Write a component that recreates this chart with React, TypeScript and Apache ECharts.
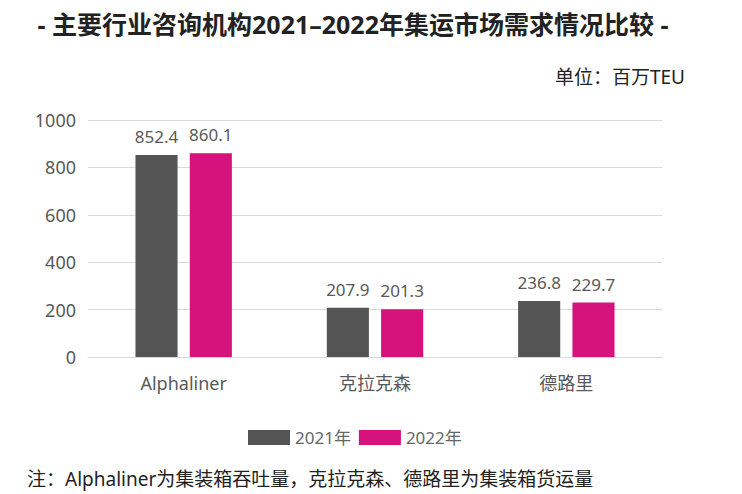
import React, { useEffect, useRef } from "react";
import * as echarts from "echarts";

const categories = ["Alphaliner", "克拉克森", "德路里"];
const values2021 = [852.4, 207.9, 236.8];
const values2022 = [860.1, 201.3, 229.7];
const seriesNames = ["2021年", "2022年"];
const yTicks = [0, 200, 400, 600, 800, 1000];

const FONT = "'Noto Sans', 'Noto Sans CJK SC', sans-serif";

export default function App() {
  const ref = useRef<HTMLDivElement>(null);
  useEffect(() => {
    const chart = echarts.init(ref.current!, undefined, { renderer: "svg" });
    chart.setOption({
      animation: false,
      backgroundColor: "#ffffff",
      textStyle: { fontFamily: FONT },
      title: [
        {
          text: "- 主要行业咨询机构2021–2022年集运市场需求情况比较 -",
          left: 348,
          top: 6,
          textAlign: "center",
          textStyle: { fontSize: 25, fontWeight: "bold", color: "#222222", fontFamily: FONT },
        },
        {
          text: "单位：百万TEU",
          right: 52,
          top: 62,
          textStyle: { fontSize: 19, fontWeight: "normal", color: "#222222", fontFamily: FONT },
        },
        {
          text: "注：Alphaliner为集装箱吞吐量，克拉克森、德路里为集装箱货运量",
          left: 22,
          top: 464,
          textStyle: { fontSize: 19, fontWeight: "normal", color: "#222222", fontFamily: FONT },
        },
      ],
      legend: {
        data: seriesNames,
        left: 243,
        top: 424,
        itemWidth: 42,
        itemHeight: 15,
        itemGap: 8,
        icon: "rect",
        textStyle: { fontSize: 17, color: "#666666", fontFamily: FONT },
      },
      grid: { left: 88, right: 80, top: 120, bottom: 137, containLabel: false },
      xAxis: {
        type: "category",
        data: categories,
        axisLine: { show: true, lineStyle: { color: "#d9d9d9" } },
        axisTick: { show: false },
        axisLabel: { fontSize: 18, color: "#595959", margin: 17, fontFamily: FONT },
      },
      yAxis: {
        type: "value",
        min: yTicks[0],
        max: yTicks[yTicks.length - 1],
        interval: 200,
        axisLine: { show: false },
        axisTick: { show: false },
        splitLine: { lineStyle: { color: "#d9d9d9", width: 1 } },
        axisLabel: {
          fontSize: 18,
          color: "#595959",
          margin: 12,
          fontFamily: FONT,
          formatter: (v: number) => String(v),
        },
      },
      series: [
        {
          name: seriesNames[0],
          type: "bar",
          data: values2021,
          barWidth: "22%",
          barGap: "29%",
          itemStyle: { color: "#545454" },
          label: { show: true, position: "top", distance: 10, fontSize: 17, color: "#595959", fontFamily: FONT },
        },
        {
          name: seriesNames[1],
          type: "bar",
          data: values2022,
          barWidth: "22%",
          itemStyle: { color: "#d6127d" },
          label: { show: true, position: "top", distance: 10, fontSize: 17, color: "#595959", fontFamily: FONT },
        },
      ],
    });
    return () => chart.dispose();
  }, []);
  return <div ref={ref} style={{ width: 742, height: 494, marginLeft: -8, marginTop: -8 }} />;
}
